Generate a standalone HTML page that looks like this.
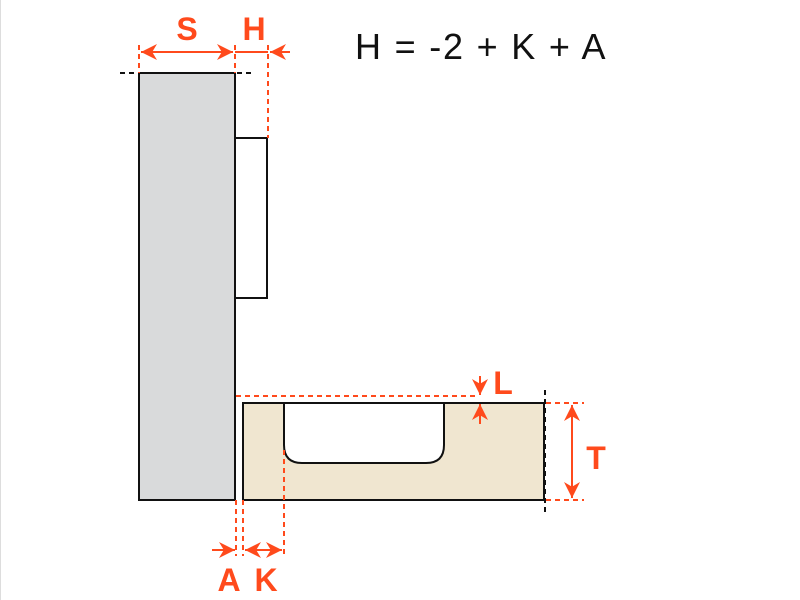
<!DOCTYPE html><html><head><style>body{margin:0;background:#fff}svg{display:block}</style></head><body>
<svg width="800" height="600" viewBox="0 0 800 600" xmlns="http://www.w3.org/2000/svg">
<defs>
<marker id="a" viewBox="0 0 10 10" refX="10" refY="5" markerWidth="8" markerHeight="8" markerUnits="strokeWidth" orient="auto-start-reverse"><path d="M0,0 L10,5 L0,10 L3,5 z" fill="#ff4a1c"/></marker>
</defs>
<line x1="0.5" y1="0" x2="0.5" y2="600" stroke="#ddd"/>
<rect x="139" y="73" width="96" height="427" fill="#d9dadb" stroke="#111" stroke-width="2"/>
<rect x="235" y="138" width="32" height="160" fill="#fff" stroke="#111" stroke-width="2"/>
<rect x="243" y="403" width="301" height="97" fill="#f0e6d0" stroke="#111" stroke-width="2"/>
<path d="M284,403 V445 Q284,463 302,463 H426 Q444,463 444,445 V403 Z" fill="#fff" stroke="#111" stroke-width="2"/>
<line x1="120" y1="73" x2="252" y2="73" stroke="#111" stroke-width="2" stroke-dasharray="5,4"/>
<line x1="545" y1="390" x2="545" y2="512" stroke="#111" stroke-width="2" stroke-dasharray="5,4"/>
<g stroke="#ff4a1c" stroke-width="2" fill="none">
<g stroke-dasharray="5,4">
<line x1="139" y1="45" x2="139" y2="73"/><line x1="235" y1="45" x2="235" y2="73"/><line x1="268" y1="45" x2="268" y2="138"/>
<line x1="236" y1="396" x2="478" y2="396"/>
<line x1="546" y1="403" x2="584" y2="403"/><line x1="546" y1="500" x2="584" y2="500"/>
<line x1="236" y1="500" x2="236" y2="556"/><line x1="243" y1="500" x2="243" y2="556"/><line x1="284" y1="450" x2="284" y2="556"/>
</g>
<line x1="141" y1="52" x2="233" y2="52" marker-start="url(#a)" marker-end="url(#a)"/>
<line x1="235" y1="52" x2="268" y2="52"/>
<line x1="290" y1="52" x2="270" y2="52" marker-end="url(#a)"/>
<line x1="572" y1="405" x2="572" y2="498" marker-start="url(#a)" marker-end="url(#a)"/>
<line x1="480" y1="376" x2="480" y2="395" marker-end="url(#a)"/>
<line x1="480" y1="424" x2="480" y2="404" marker-end="url(#a)"/>
<line x1="212" y1="550" x2="235" y2="550" marker-end="url(#a)"/>
<line x1="245" y1="550" x2="282" y2="550" marker-start="url(#a)" marker-end="url(#a)"/>
</g>
<g font-family="Liberation Sans, sans-serif" font-weight="bold" fill="#ff4a1c" font-size="32">
<text x="187" y="40" text-anchor="middle">S</text>
<text x="254" y="40" text-anchor="middle">H</text>
<text x="503" y="394" text-anchor="middle">L</text>
<text x="596" y="469" text-anchor="middle">T</text>
<text x="229" y="591" text-anchor="middle">A</text>
<text x="266" y="591" text-anchor="middle">K</text>
</g>
<text x="355" y="59" font-family="Liberation Sans, sans-serif" font-size="36" letter-spacing="1.8" fill="#111">H = -2 + K + A</text>
</svg>
</body></html>
